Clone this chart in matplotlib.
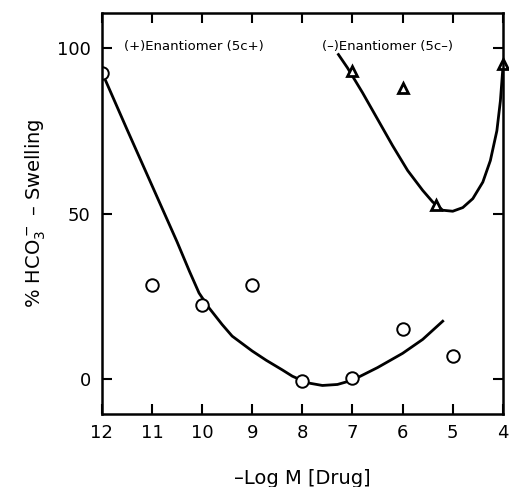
import numpy as np
import matplotlib.pyplot as plt

# data (x = -log M, y = % swelling)
plus_x = [12, 11, 10, 9, 8, 7, 6, 5]
plus_y = [92.5, 28.5, 22.5, 28.5, -0.5, 0.5, 15, 7]

minus_x = [7, 6, 5.34, 4]
minus_y = [93, 88, 52.5, 95]

# hand-drawn trend curves
plus_curve_x = [11.92, 11.5, 11.0, 10.5, 10.25, 10.06, 9.86, 9.6, 9.4, 9.0,
                8.72, 8.4, 8.2, 7.9, 7.6, 7.3, 7.0, 6.5, 6.0, 5.6, 5.2]
plus_curve_y = [90, 75.5, 58.5, 41.5, 32.5, 26, 21.5, 16.5, 13, 8.5,
                5.7, 2.8, 0.9, -1.1, -1.9, -1.6, -0.3, 3.5, 7.8, 12, 17.5]

minus_curve_x = [7.28, 7.1, 6.8, 6.5, 6.2, 5.9, 5.6, 5.4, 5.2, 5.0, 4.8,
                 4.6, 4.4, 4.25, 4.12, 4.05, 4.0]
minus_curve_y = [98, 94, 86.5, 78.5, 70.5, 63, 57, 53.5, 51, 50.7, 51.8,
                 54.5, 59.5, 66, 75, 84, 94]

fig = plt.figure(figsize=(5.09, 4.87), dpi=100)
ax = fig.add_axes([0.2, 0.15, 0.788, 0.823])

ax.plot(plus_curve_x, plus_curve_y, color='black', lw=2)
ax.plot(minus_curve_x, minus_curve_y, color='black', lw=2)
ax.plot(plus_x, plus_y, 'o', ms=9, mfc='white', mec='black', mew=1.4)
ax.plot(minus_x, minus_y, '^', ms=7.5, mfc='white', mec='black', mew=2,
        clip_on=False)

ax.set_xlim(12, 4)
ax.set_ylim(-10.5, 110.5)
ax.set_xticks(range(12, 3, -1))
ax.set_yticks([0, 50, 100])
ax.tick_params(direction='in', length=7, width=1.5, top=True, right=True,
               labelsize=13)
ax.tick_params(axis='x', pad=7)
ax.tick_params(axis='y', pad=8)
for s in ax.spines.values():
    s.set_linewidth(1.8)

ax.text(11.55, 100.5, '(+)Enantiomer (5c+)', fontsize=9.5, va='center')
ax.text(7.6, 100.5, '(\u2013)Enantiomer (5c\u2013)', fontsize=9.5, va='center')

ax.set_xlabel('\u2013Log M [Drug]', fontsize=14)
ax.xaxis.set_label_coords(0.5, -0.138)
ax.set_ylabel('% HCO$_3^-$ \u2013 Swelling', fontsize=14)
ax.yaxis.set_label_coords(-0.135, 0.5)

fig.savefig('out.png', dpi=100)
